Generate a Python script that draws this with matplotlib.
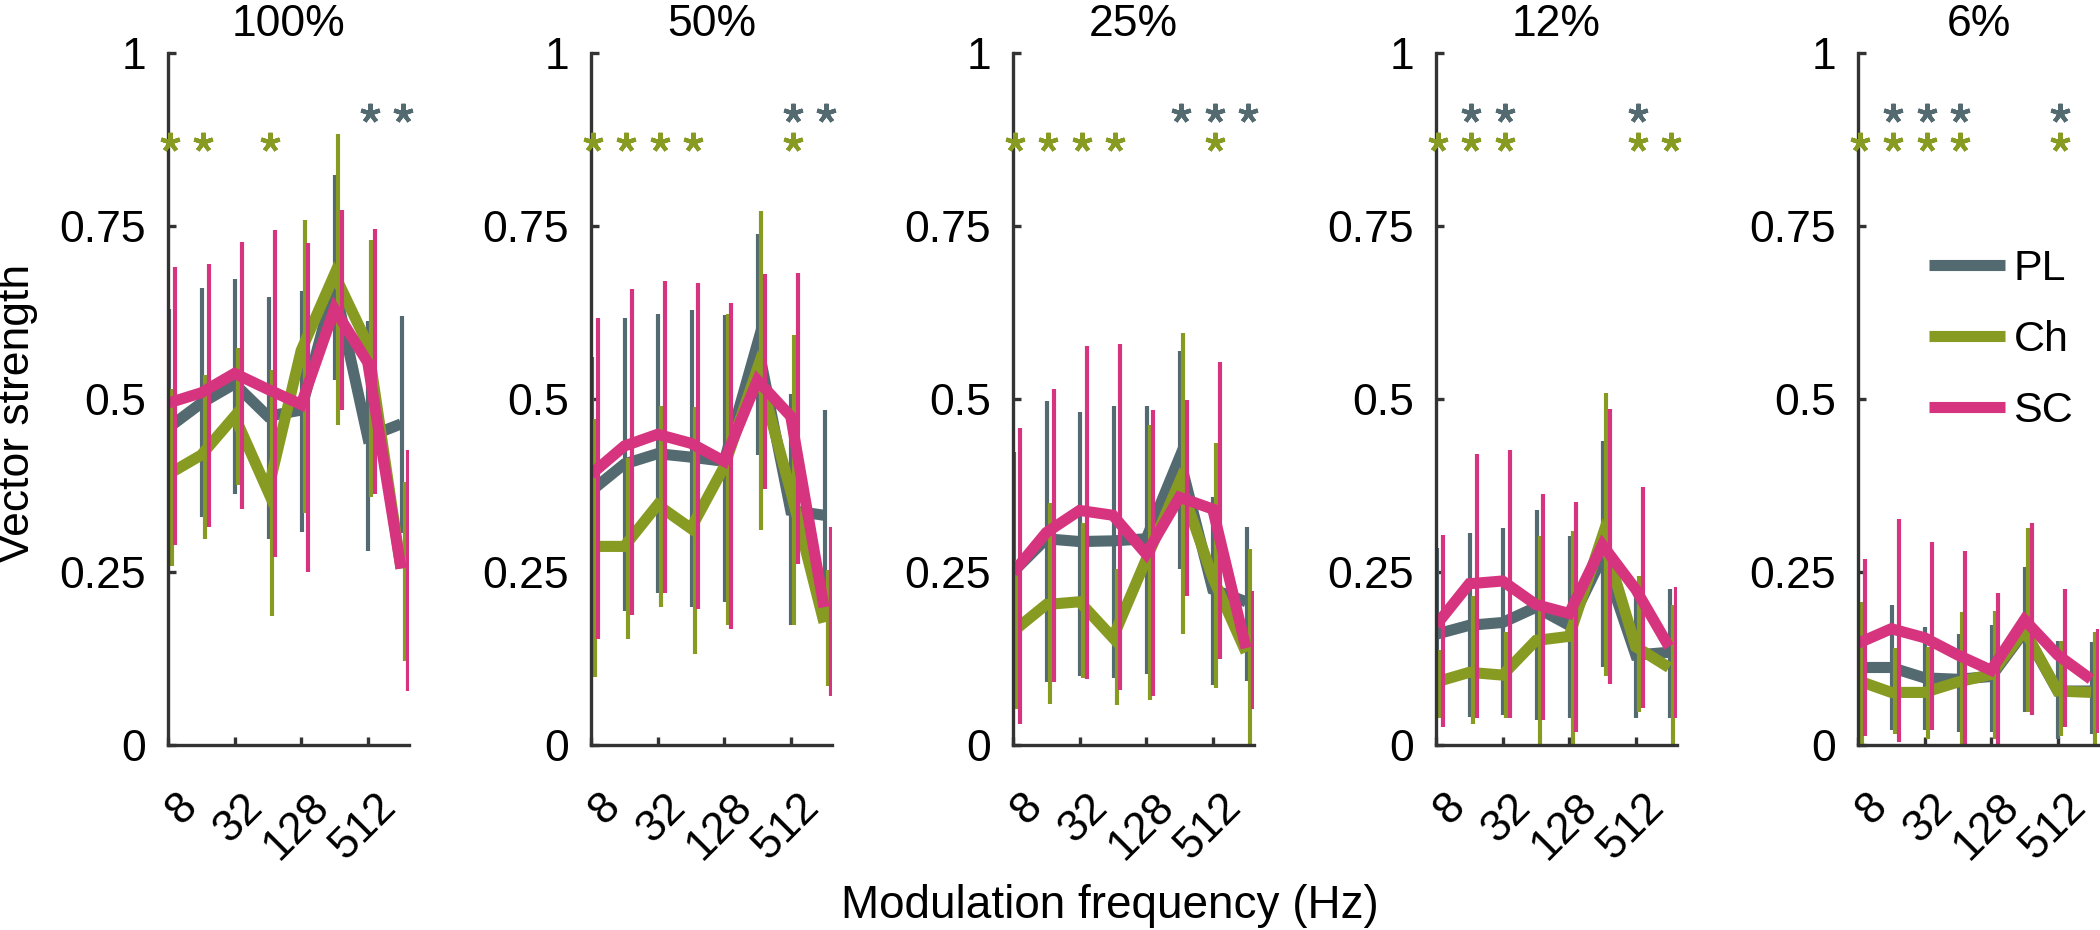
import numpy as np
import matplotlib
matplotlib.use("Agg")
import matplotlib.pyplot as plt
from matplotlib.transforms import ScaledTranslation

############################################
# DATA
############################################

freqs = [8, 16, 32, 64, 128, 256, 512, 1024]
depths = ["100%", "50%", "25%", "12%", "6%"]
xtick_vals = [8, 32, 128, 512]
ytick_vals = [0, 0.25, 0.5, 0.75, 1]
ytick_labels = ["0", "0.25", "0.5", "0.75", "1"]

# one row per panel (100%, 50%, 25%, 12%, 6%)
pl_mean = [
    [0.458, 0.494, 0.522, 0.475, 0.484, 0.665, 0.445, 0.464],
    [0.367, 0.406, 0.421, 0.416, 0.410, 0.580, 0.339, 0.332],
    [0.250, 0.298, 0.294, 0.295, 0.298, 0.415, 0.225, 0.207],
    [0.160, 0.173, 0.177, 0.199, 0.173, 0.272, 0.130, 0.134],
    [0.112, 0.112, 0.097, 0.095, 0.099, 0.164, 0.078, 0.078],
]
pl_hi = [
    [0.630, 0.660, 0.674, 0.648, 0.656, 0.823, 0.613, 0.620],
    [0.561, 0.617, 0.623, 0.628, 0.622, 0.738, 0.507, 0.484],
    [0.423, 0.497, 0.481, 0.490, 0.490, 0.570, 0.358, 0.315],
    [0.285, 0.307, 0.313, 0.339, 0.302, 0.439, 0.229, 0.225],
    [0.207, 0.203, 0.171, 0.160, 0.173, 0.257, 0.151, 0.149],
]
pl_lo = [
    [0.276, 0.330, 0.363, 0.298, 0.308, 0.527, 0.281, 0.307],
    [0.151, 0.194, 0.220, 0.199, 0.206, 0.419, 0.174, 0.181],
    [0.073, 0.091, 0.099, 0.097, 0.102, 0.255, 0.086, 0.093],
    [0.039, 0.041, 0.043, 0.036, 0.039, 0.112, 0.039, 0.039],
    [0.000, 0.022, 0.022, 0.019, 0.019, 0.047, 0.009, 0.016],
]

ch_mean = [
    [0.391, 0.419, 0.475, 0.367, 0.570, 0.680, 0.579, 0.255],
    [0.287, 0.287, 0.347, 0.313, 0.402, 0.544, 0.367, 0.177],
    [0.164, 0.203, 0.207, 0.155, 0.268, 0.380, 0.242, 0.134],
    [0.091, 0.105, 0.101, 0.151, 0.157, 0.302, 0.142, 0.112],
    [0.093, 0.076, 0.076, 0.091, 0.102, 0.166, 0.078, 0.076],
]
ch_hi = [
    [0.514, 0.535, 0.574, 0.542, 0.758, 0.883, 0.730, 0.380],
    [0.471, 0.415, 0.490, 0.488, 0.623, 0.771, 0.592, 0.253],
    [0.268, 0.350, 0.321, 0.255, 0.462, 0.596, 0.436, 0.283],
    [0.138, 0.216, 0.164, 0.302, 0.309, 0.509, 0.244, 0.203],
    [0.206, 0.140, 0.142, 0.192, 0.194, 0.313, 0.151, 0.164],
]
ch_lo = [
    [0.259, 0.298, 0.376, 0.186, 0.335, 0.462, 0.358, 0.121],
    [0.098, 0.153, 0.200, 0.132, 0.174, 0.311, 0.174, 0.085],
    [0.052, 0.059, 0.097, 0.058, 0.065, 0.160, 0.082, 0.000],
    [0.039, 0.030, 0.039, 0.000, 0.000, 0.099, 0.047, 0.000],
    [0.000, 0.016, 0.009, 0.000, 0.009, 0.047, 0.013, 0.000],
]

sc_mean = [
    [0.494, 0.509, 0.537, 0.514, 0.492, 0.630, 0.553, 0.255],
    [0.391, 0.432, 0.449, 0.436, 0.410, 0.527, 0.475, 0.199],
    [0.249, 0.307, 0.339, 0.332, 0.276, 0.358, 0.341, 0.140],
    [0.173, 0.233, 0.237, 0.203, 0.190, 0.289, 0.225, 0.142],
    [0.147, 0.168, 0.155, 0.130, 0.108, 0.181, 0.130, 0.095],
]
sc_hi = [
    [0.691, 0.695, 0.727, 0.744, 0.725, 0.773, 0.745, 0.427],
    [0.617, 0.659, 0.671, 0.668, 0.639, 0.681, 0.682, 0.315],
    [0.458, 0.514, 0.577, 0.579, 0.484, 0.498, 0.554, 0.222],
    [0.304, 0.421, 0.427, 0.363, 0.351, 0.485, 0.373, 0.229],
    [0.269, 0.326, 0.294, 0.281, 0.220, 0.321, 0.226, 0.168],
]
sc_lo = [
    [0.289, 0.315, 0.341, 0.272, 0.250, 0.484, 0.363, 0.078],
    [0.153, 0.188, 0.220, 0.197, 0.168, 0.370, 0.261, 0.071],
    [0.030, 0.091, 0.095, 0.079, 0.071, 0.216, 0.125, 0.052],
    [0.026, 0.039, 0.039, 0.036, 0.019, 0.088, 0.054, 0.039],
    [0.013, 0.004, 0.022, 0.000, 0.000, 0.043, 0.026, 0.017],
]

# significance stars (frequencies) per panel
ch_sig = [
    [8, 16, 64],
    [8, 16, 32, 64, 512],
    [8, 16, 32, 64, 512],
    [8, 16, 32, 512, 1024],
    [8, 16, 32, 64, 512],
]
pl_sig = [
    [512, 1024],
    [512, 1024],
    [256, 512, 1024],
    [16, 32, 512],
    [16, 32, 64, 512],
]
ch_star_y = 0.872
pl_star_y = 0.913

############################################
# STYLE
############################################

plt.rcParams["font.family"] = ["Liberation Sans", "DejaVu Sans"]

C_PL = "#546a71"
C_CH = "#879b23"
C_SC = "#d6347f"
AX_COL = "#333333"

series = [
    ("PL", pl_mean, pl_lo, pl_hi, C_PL, 0.02),
    ("Ch", ch_mean, ch_lo, ch_hi, C_CH, 0.11),
    ("SC", sc_mean, sc_lo, sc_hi, C_SC, 0.22),
]

fig = plt.figure(figsize=(21, 9.3), dpi=100)

lefts = [168, 591, 1013, 1436, 1858]
ax_w = 241 / 2100
ax_b = 1 - 745 / 930
ax_h = (745 - 53) / 930

f = np.array(freqs, dtype=float)
shift = ScaledTranslation(22 / 100, 0, fig.dpi_scale_trans)

for p, title in enumerate(depths):
    ax = fig.add_axes([lefts[p] / 2100, ax_b, ax_w, ax_h])
    ax.set_xscale("log", base=2)

    for name, m, lo, hi, col, off in series:
        ax.plot(f, m[p], color=col, lw=8, solid_joinstyle="miter",
                solid_capstyle="butt", label=name, zorder=2)
        ax.vlines(f * 2 ** off, lo[p], hi[p], color=col, lw=3, zorder=2)

    ax.plot(np.array(ch_sig[p]) * 2 ** 0.06, [ch_star_y] * len(ch_sig[p]),
            ls="none", marker=(5, 2, 0), ms=14, mew=3, color=C_CH,
            clip_on=False, zorder=3)
    ax.plot(np.array(pl_sig[p]) * 2 ** 0.06, [pl_star_y] * len(pl_sig[p]),
            ls="none", marker=(5, 2, 0), ms=14, mew=3, color=C_PL,
            clip_on=False, zorder=3)

    ax.set_xlim(8, 1024 * 2 ** 0.24)
    ax.set_ylim(0, 1)
    ax.set_xticks(xtick_vals)
    ax.set_xticklabels([str(v) for v in xtick_vals])
    ax.minorticks_off()
    ax.set_yticks(ytick_vals)
    ax.set_yticklabels(ytick_labels)

    for s in ["top", "right"]:
        ax.spines[s].set_visible(False)
    for s in ["left", "bottom"]:
        ax.spines[s].set_color(AX_COL)
        ax.spines[s].set_linewidth(2.4)
    ax.tick_params(direction="in", length=6, width=2.4, color=AX_COL,
                   labelsize=32)
    ax.tick_params(axis="y", pad=16)
    ax.tick_params(axis="x", pad=40)
    for lab in ax.get_xticklabels():
        lab.set_rotation(45)
        lab.set_rotation_mode("anchor")
        lab.set_ha("right")
        lab.set_va("center")
        lab.set_transform(lab.get_transform() + shift)
    ax.set_title(title, fontsize=32, pad=12)

    if p == 4:
        ax.legend(loc="center left", bbox_to_anchor=(0.295, 0.585),
                  frameon=False, fontsize=31, handlelength=1.77,
                  handletextpad=0.19, labelspacing=0.72, borderpad=0,
                  borderaxespad=0)

fig.text(18 / 2100, 1 - 413 / 930, "Vector strength", rotation=90,
         ha="center", va="center", fontsize=32)
fig.text(1110 / 2100, 1 - 906 / 930, "Modulation frequency (Hz)",
         ha="center", va="center", fontsize=33)

fig.savefig("out.png", dpi=100)
